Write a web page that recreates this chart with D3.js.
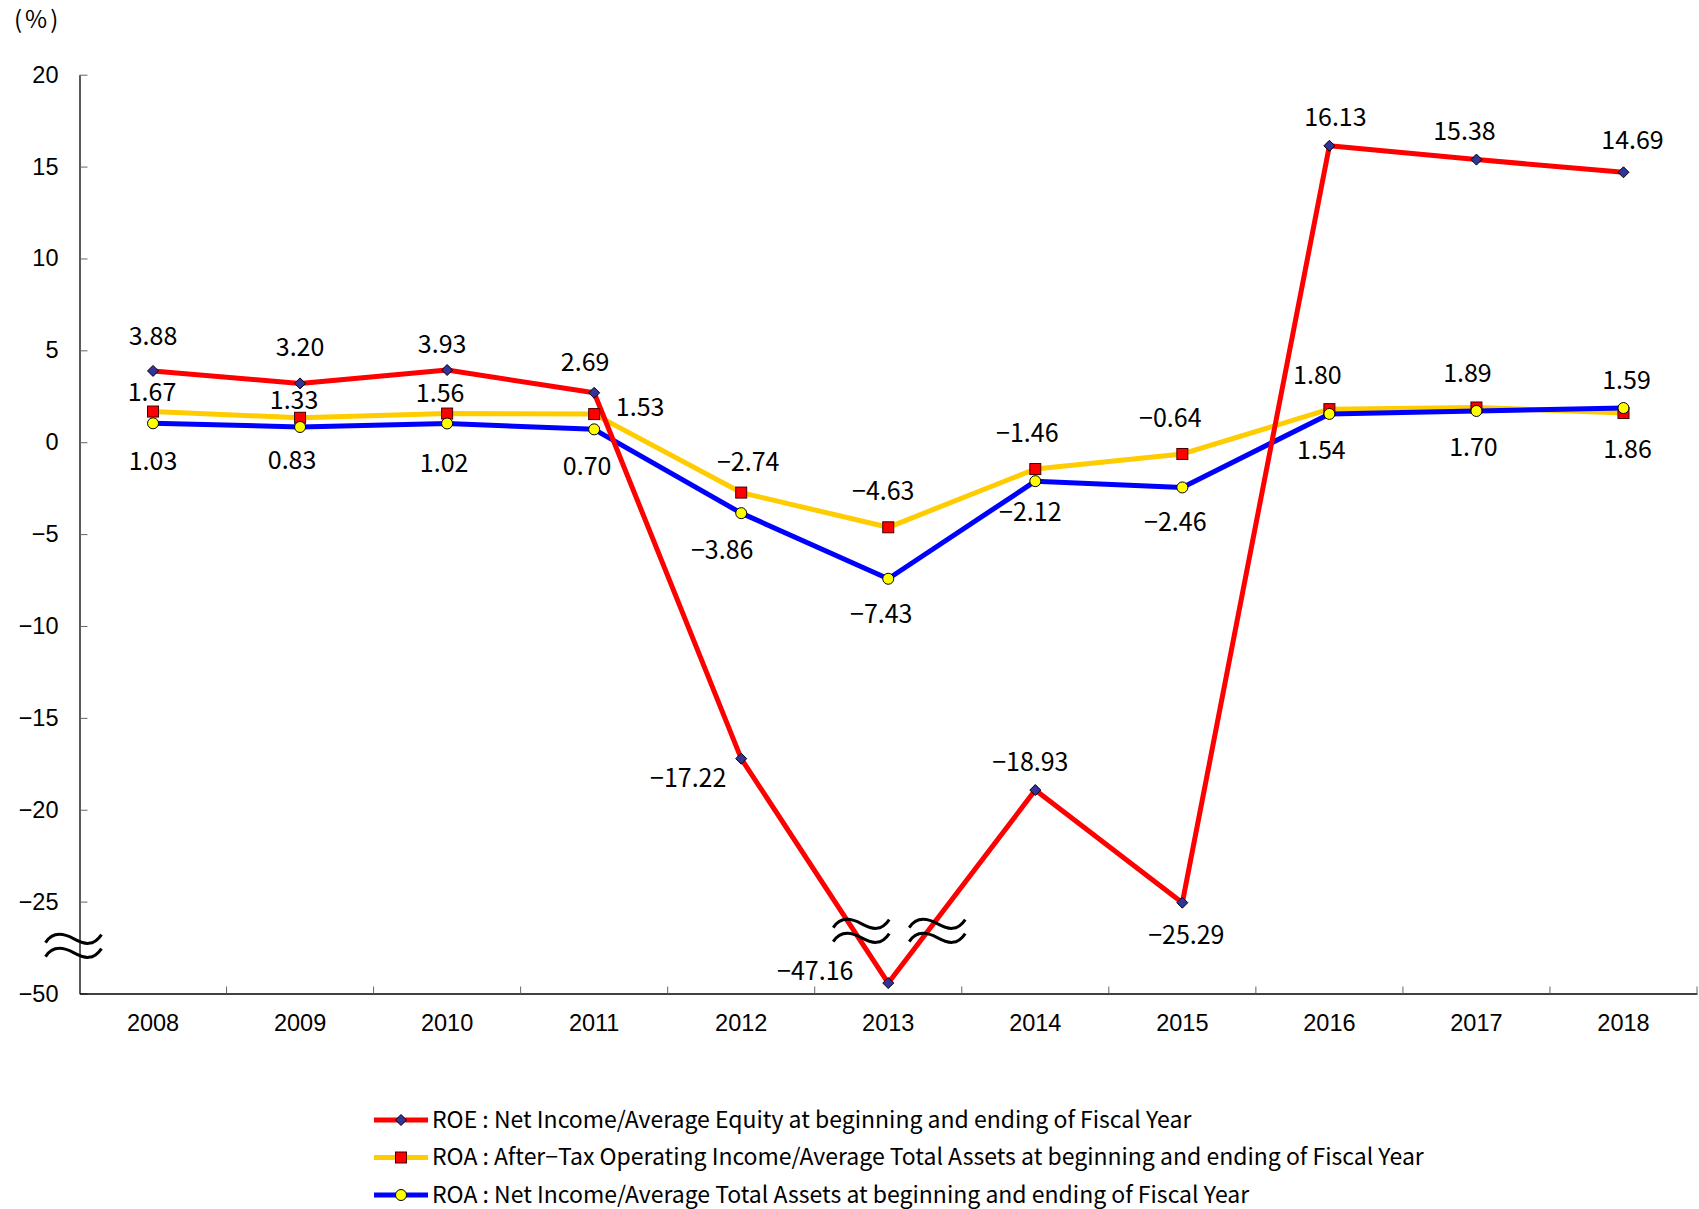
<!DOCTYPE html>
<html>
<head>
<meta charset="utf-8">
<script src="https://cdn.jsdelivr.net/npm/d3@7"></script>
<style>
  body { margin: 0; background: #fff; }
  svg { display: block; font-family: "Noto Sans CJK JP", "Noto Sans", sans-serif; }
</style>
</head>
<body>
<svg id="chart"></svg>
<script>
'use strict';

// ---- data
const years = ["2008", "2009", "2010", "2011", "2012", "2013", "2014", "2015", "2016", "2017", "2018"];
const roe = [3.88, 3.20, 3.93, 2.69, -17.22, -47.16, -18.93, -25.29, 16.13, 15.38, 14.69];
const roaOperating = [1.67, 1.33, 1.56, 1.53, -2.74, -4.63, -1.46, -0.64, 1.80, 1.89, 1.59];
const roaNet = [1.03, 0.83, 1.02, 0.70, -3.86, -7.43, -2.12, -2.46, 1.54, 1.70, 1.86];
const yTicks = [20, 15, 10, 5, 0, -5, -10, -15, -20, -25, -50];
const legendLabels = [
  "ROE : Net Income/Average Equity at beginning and ending of Fiscal Year",
  "ROA : After\u2212Tax Operating Income/Average Total Assets at beginning and ending of Fiscal Year",
  "ROA : Net Income/Average Total Assets at beginning and ending of Fiscal Year"
];

// data label offsets (dx, dy) from each point -- the original labels were placed by hand
const roeLabelOffsets = [[0, -35], [0, -36], [-5, -26], [-9, -31], [-53, 19], [-73, -12], [-5, -28], [4, 32], [6, -29], [-12, -29], [9, -32]];
const operatingLabelOffsets = [[-1, -20], [-6, -18], [-7, -21], [46, -7], [7, -31], [-5, -36], [-8, -36], [-12, -36], [-12, -34], [-9, -34], [3, -33]];
const netLabelOffsets = [[0, 38], [-8, 33], [-3, 40], [-7, 37], [-19, 37], [-7, 35], [-5, 31], [-7, 35], [-8, 36], [-3, 36], [4, 41]];

const WIDTH = 1699;
const HEIGHT = 1209;

let margin = {top: 74.7, right: 2, bottom: 215.5, left: 79.5},
  width = WIDTH - margin.left - margin.right,
  height = HEIGHT - margin.top - margin.bottom;

let svg = d3.select("#chart").attr("width", WIDTH).attr("height", HEIGHT);
let g = svg.append("g").attr("transform", "translate(" + margin.left + "," + margin.top + ")");

let x = d3.scaleBand().domain(years).range([0, width]).padding(0);
let xc = d => x(d) + x.bandwidth() / 2;

// broken axis: 20 .. -25 is linear, the last step squeezes -25 .. -50
let pxPerUnit = height / 50;
let y = d3.scaleLinear()
  .domain([-50, -25, 20])
  .range([height, 45 * pxPerUnit, 0]);

// ---- axes
let yAxis = d3.axisLeft(y)
  .tickValues(yTicks)
  .tickFormat(d3.format("d"))
  .tickSizeInner(-8)
  .tickSizeOuter(0)
  .tickPadding(21);

let yG = g.append("g").call(yAxis);
yG.select(".domain").attr("stroke", "#000").attr("stroke-width", 1.3);
yG.selectAll(".tick line").attr("stroke", "#666");
yG.selectAll(".tick text").attr("font-size", 23.5).attr("fill", "#000");

let xAxis = d3.axisBottom(x).tickSize(0).tickPadding(21);
let xG = g.append("g").attr("transform", "translate(0," + height + ")").call(xAxis);
xG.select(".domain").attr("stroke", "#000").attr("stroke-width", 1.3);
xG.selectAll(".tick text").attr("font-size", 23.5).attr("fill", "#000");

// ticks sit between the categories
g.append("g")
  .selectAll("line")
  .data(years.slice(1).concat(["end"]))
  .enter().append("line")
  .attr("x1", d => d === "end" ? width : x(d))
  .attr("x2", d => d === "end" ? width : x(d))
  .attr("y1", height)
  .attr("y2", height - 7)
  .attr("stroke", "#666")
  .attr("stroke-width", 1);

svg.append("text")
  .attr("x", 14)
  .attr("y", 28)
  .attr("font-size", 24)
  .attr("letter-spacing", 3)
  .text("(%)");

// ---- lines
const RED = "#ff0000", YELLOW = "#ffcc00", BLUE = "#0000ff";

let line = d3.line()
  .x((d, i) => xc(years[i]))
  .y(d => y(d));

let appendLine = function(values, color) {
  return g.append("path")
    .datum(values)
    .attr("fill", "none")
    .attr("stroke", color)
    .attr("stroke-width", 5)
    .attr("stroke-linejoin", "round")
    .attr("d", line);
};

appendLine(roaOperating, YELLOW);
appendLine(roaNet, BLUE);
appendLine(roe, RED);

// ---- markers
const diamondPath = "M0,-5.5L5.5,0L0,5.5L-5.5,0Z";

g.append("g").selectAll("path")
  .data(roe)
  .enter().append("path")
  .attr("d", diamondPath)
  .attr("transform", (d, i) => "translate(" + xc(years[i]) + "," + y(d) + ")")
  .attr("fill", "#333399")
  .attr("stroke", "#000")
  .attr("stroke-width", 1);

g.append("g").selectAll("rect")
  .data(roaOperating)
  .enter().append("rect")
  .attr("x", (d, i) => xc(years[i]) - 5.5)
  .attr("y", d => y(d) - 5.5)
  .attr("width", 11)
  .attr("height", 11)
  .attr("fill", "#ff0000")
  .attr("stroke", "#400000")
  .attr("stroke-width", 1);

g.append("g").selectAll("circle")
  .data(roaNet)
  .enter().append("circle")
  .attr("cx", (d, i) => xc(years[i]))
  .attr("cy", d => y(d))
  .attr("r", 5.5)
  .attr("fill", "#ffff00")
  .attr("stroke", "#000")
  .attr("stroke-width", 1);

// ---- data labels
let fmt = d3.format(".2f");

let appendLabels = function(values, offsets) {
  g.append("g").selectAll("text")
    .data(values)
    .enter().append("text")
    .attr("x", (d, i) => xc(years[i]) + offsets[i][0])
    .attr("y", (d, i) => y(d) + offsets[i][1])
    .attr("dy", "0.36em")
    .attr("text-anchor", "middle")
    .attr("font-size", 25)
    .attr("fill", "#000")
    .text(d => fmt(d));
};

appendLabels(roe, roeLabelOffsets);
appendLabels(roaOperating, operatingLabelOffsets);
appendLabels(roaNet, netLabelOffsets);

// ---- break marks (two stacked tildes)
const wavePath = "M-28,4C-21,-7 -11,-6 0,0S20,8 28,-4";

let appendBreak = function(cx, cy) {
  let b = g.append("g").attr("transform", "translate(" + cx + "," + cy + ")");
  [-7, 7].forEach(function(off) {
    b.append("path")
      .attr("d", wavePath)
      .attr("transform", "translate(0," + off + ")")
      .attr("fill", "none")
      .attr("stroke", "#000")
      .attr("stroke-width", 3);
  });
};

appendBreak(-6, y(-25) + 44);
appendBreak(xc("2013") - 27, y(-25) + 29);
appendBreak(xc("2013") + 49, y(-25) + 29);

// ---- legend
const legendColors = [RED, YELLOW, BLUE];
let legend = svg.append("g").attr("transform", "translate(374,1120)");

legendLabels.forEach(function(label, i) {
  let row = legend.append("g").attr("transform", "translate(0," + (i * 37.5) + ")");
  row.append("line")
    .attr("x1", 0).attr("x2", 54)
    .attr("y1", 0).attr("y2", 0)
    .attr("stroke", legendColors[i])
    .attr("stroke-width", 5);
  if (i === 0) {
    row.append("path").attr("d", diamondPath).attr("transform", "translate(27,0)")
      .attr("fill", "#333399").attr("stroke", "#000");
  } else if (i === 1) {
    row.append("rect").attr("x", 21.5).attr("y", -5.5).attr("width", 11).attr("height", 11)
      .attr("fill", "#ff0000").attr("stroke", "#400000");
  } else {
    row.append("circle").attr("cx", 27).attr("cy", 0).attr("r", 5.5)
      .attr("fill", "#ffff00").attr("stroke", "#000");
  }
  row.append("text")
    .attr("x", 58)
    .attr("y", 0)
    .attr("dy", "0.33em")
    .attr("font-size", 23)
    .attr("fill", "#000")
    .text(label);
});
</script>
</body>
</html>
